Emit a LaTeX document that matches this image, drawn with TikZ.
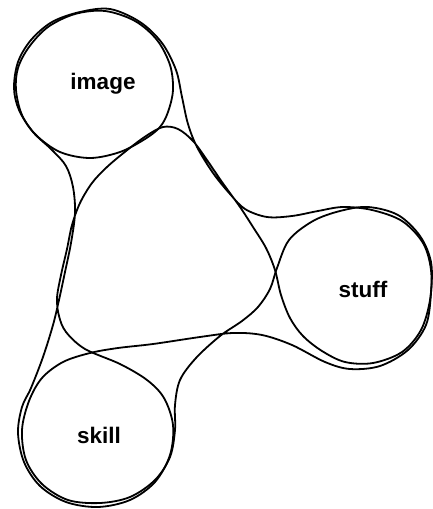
\documentclass[tikz,border=0pt]{standalone}
\usepackage{fontspec}
\setmainfont{Liberation Sans}
\begin{document}
\begin{tikzpicture}[x=1pt,y=-1pt,
  strand/.style={draw=black, line width=1.8pt, line join=round},
  lbl/.style={font=\fontsize{22.5}{26}\selectfont\bfseries, anchor=base, inner sep=0pt}]
\useasboundingbox (0,0) rectangle (432,509);

% image circle
\draw[strand] plot[smooth cycle, tension=0.55] coordinates {
 (90,158) (120,152) (145,139) (160,127) (168,112) (173,90) (170,65) (157,40)
 (135,21) (105,11) (75,14) (48,27) (29,47) (18,68) (16,90) (22,115) (36,135) (60,152)};

% stuff--skill loop
\draw[strand] plot[smooth cycle, tension=0.55] coordinates {
 (313,221) (340,211) (368,207) (398,215) (420,236) (431,262) (431,293) (426,325)
 (408,350) (380,366) (350,369) (325,362) (292,345) (262,335) (233,333) (200,337)
 (153,344) (118,348) (90,353) (63,362) (42,378) (29,401) (22,430) (26,460)
 (42,484) (68,500) (100,503) (130,497) (155,480) (170,457) (175,430) (175,405)
 (180,380) (196,358) (220,336) (242,321) (258,307) (270,289) (277,268) (289,240)};

% large loop
\draw[strand] plot[smooth cycle, tension=0.55] coordinates {
 (80,12) (110,9) (140,22) (162,43) (176,70) (182,97) (188,124) (197,147)
 (213,173) (230,194) (245,209) (267,217) (292,216) (318,211) (343,207) (372,210)
 (402,221) (423,243) (431,270) (430,300) (421,330) (402,352) (373,363) (345,362)
 (322,351) (303,336) (290,318) (281,295) (275,270) (266,248) (253,227) (240,207)
 (222,182) (207,160) (193,141) (178,129) (163,127) (146,136) (126,151) (107,167)
 (92,183) (80,203) (72,225) (67,249) (61,275) (57,298) (59,316) (66,332)
 (85,349) (120,364) (147,380) (164,398) (173,425) (170,455) (155,482) (130,500)
 (98,507) (66,502) (40,486) (24,462) (18,433) (22,407) (31,388) (43,357)
 (53,325) (59,300) (65,272) (71,243) (75,213) (73,187) (66,166) (52,150)
 (33,132) (19,110) (14,88) (18,62) (31,40) (52,22)};

\node[lbl] (image) at (103,89) {image};
\node[lbl] (stuff) at (363,297) {stuff};
\node[lbl] (skill) at (99,443) {skill};
\end{tikzpicture}
\end{document}
